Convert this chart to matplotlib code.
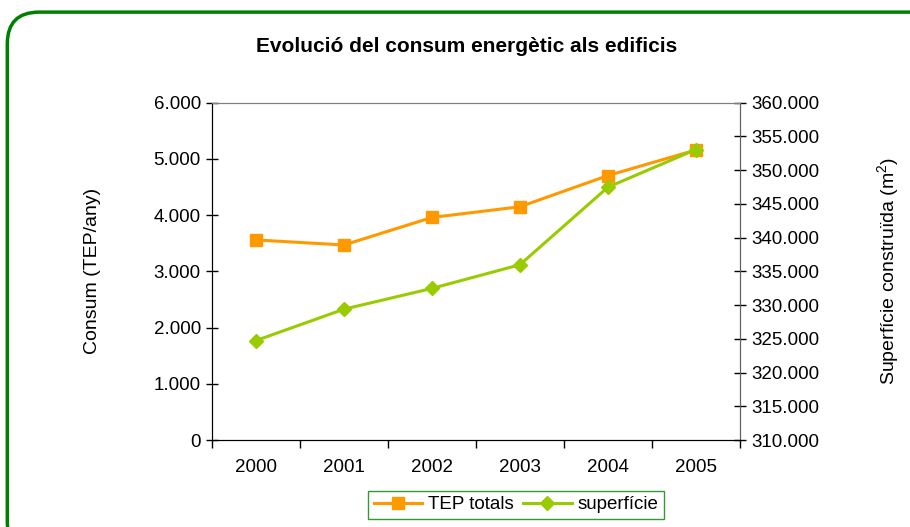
import matplotlib.pyplot as plt
from matplotlib.patches import FancyBboxPatch
from matplotlib.ticker import FuncFormatter

plt.rcParams["font.family"] = ["Liberation Sans", "DejaVu Sans"]

# Data
years = ["2000", "2001", "2002", "2003", "2004", "2005"]
tep_totals = [3560, 3470, 3960, 4150, 4705, 5160]
superficie = [324750, 329400, 332480, 335990, 347480, 353070]

orange = "#FF9900"
green = "#99CC00"


def dot_thousands(v, pos):
    return f"{int(round(v)):,}".replace(",", ".")


fig = plt.figure(figsize=(9.1, 5.27), dpi=100)

# rounded green frame
frame = FancyBboxPatch((0.008, -0.05), 1.2, 1.027, boxstyle="round,pad=0,rounding_size=0.035",
                       transform=fig.transFigure, facecolor="white", edgecolor="#008000",
                       linewidth=2.5, zorder=-10, mutation_aspect=910 / 527)
fig.patches.append(frame)

ax = fig.add_axes([0.233, 0.165, 0.58, 0.64])
ax2 = ax.twinx()

x = range(len(years))
l1, = ax.plot(x, tep_totals, color=orange, marker="s", markersize=8, linewidth=2.2, label="TEP totals")
l2, = ax2.plot(x, superficie, color=green, marker="D", markersize=7, linewidth=2.2, label="superfície")

ax.set_xlim(-0.5, len(years) - 0.5)
ax.set_ylim(0, 6000)
ax.set_yticks(range(0, 6001, 1000))
ax.yaxis.set_major_formatter(FuncFormatter(dot_thousands))
ax2.set_ylim(310000, 360000)
ax2.set_yticks(range(310000, 360001, 5000))
ax2.yaxis.set_major_formatter(FuncFormatter(dot_thousands))

# category labels between boundary ticks
ax.set_xticks([i - 0.5 for i in range(len(years) + 1)])
ax.set_xticklabels([])
ax.set_xticks(list(x), minor=True)
ax.set_xticklabels(years, minor=True)
ax.tick_params(axis="x", which="major", direction="out", length=6, width=1)
ax.tick_params(axis="x", which="minor", length=0, pad=14, labelsize=13.5)
ax.tick_params(axis="y", direction="inout", length=8, width=1, labelsize=13.5, pad=4)
ax2.tick_params(axis="y", direction="inout", length=8, width=1, labelsize=13.5, pad=4)

for a in (ax, ax2):
    a.spines["top"].set_color("#808080")
    a.spines["right"].set_color("#606060")
    a.spines["left"].set_color("black")
    a.spines["bottom"].set_color("black")

ax.set_ylabel("Consum (TEP/any)", fontsize=14, labelpad=38)
ax2.set_ylabel("Superfície construïda (m$\\mathregular{^2}$)", fontsize=14, labelpad=40)

fig.text(0.513, 0.912, "Evolució del consum energètic als edificis", ha="center", va="center",
         fontsize=15, fontweight="bold")

leg = fig.legend(handles=[l1, l2], loc="center", bbox_to_anchor=(0.567, 0.042), ncol=2,
                 fancybox=False, framealpha=1, edgecolor="#339933", fontsize=13.5,
                 handlelength=2.6, handletextpad=0.3, columnspacing=0.5, borderpad=0.3)
leg.get_frame().set_linewidth(1)

fig.savefig("out.png", dpi=100)
